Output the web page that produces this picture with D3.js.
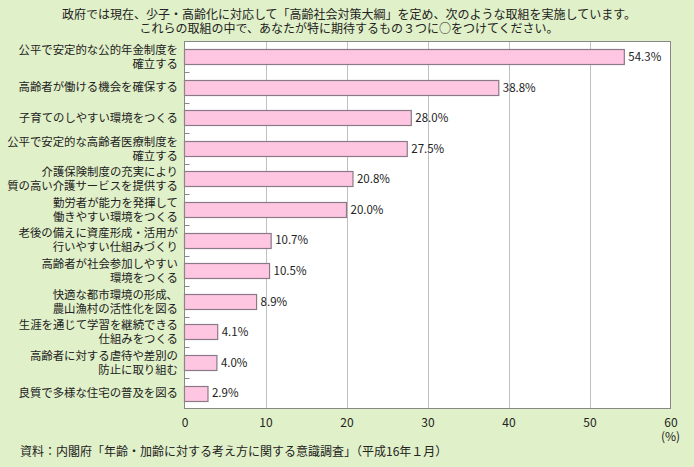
<!DOCTYPE html>
<html><head><meta charset="utf-8">
<script src="https://cdn.jsdelivr.net/npm/d3@7"></script>
<style>
html,body{margin:0;padding:0;background:#e0f0c8;}
svg{display:block;font-family:"Noto Sans CJK JP","Noto Sans",sans-serif;}
</style></head>
<body>
<svg id="c" width="694" height="467"></svg>
<script>
const titleLines = [
  "政府では現在、少子・高齢化に対応して「高齢社会対策大綱」を定め、次のような取組を実施しています。",
  "これらの取組の中で、あなたが特に期待するもの３つに○をつけてください。"
];
const categories = [
  "公平で安定的な公的年金制度を\n確立する",
  "高齢者が働ける機会を確保する",
  "子育てのしやすい環境をつくる",
  "公平で安定的な高齢者医療制度を\n確立する",
  "介護保険制度の充実により\n質の高い介護サービスを提供する",
  "勤労者が能力を発揮して\n働きやすい環境をつくる",
  "老後の備えに資産形成・活用が\n行いやすい仕組みづくり",
  "高齢者が社会参加しやすい\n環境をつくる",
  "快適な都市環境の形成、\n農山漁村の活性化を図る",
  "生涯を通じて学習を継続できる\n仕組みをつくる",
  "高齢者に対する虐待や差別の\n防止に取り組む",
  "良質で多様な住宅の普及を図る"
];
const values = [54.3, 38.8, 28.0, 27.5, 20.8, 20.0, 10.7, 10.5, 8.9, 4.1, 4.0, 2.9];
const xTicks = [0, 10, 20, 30, 40, 50, 60];
const unitLabel = "(%)";
const sourceText = "資料：内閣府「年齢・加齢に対する考え方に関する意識調査」（平成16年１月）";

const svg = d3.select("#c");
const pL = 184.5, pR = 670.5, pT = 41.5, pB = 408.5;
const x = d3.scaleLinear().domain([0, 60]).range([pL, pR]);
const y = d3.scaleBand().domain(categories).range([pT, pB]).paddingInner(0.5).paddingOuter(0.25);

svg.append("rect").attr("width", 694).attr("height", 467).attr("fill", "#e0f0c8");

// title
svg.append("g").selectAll("text").data(titleLines).join("text")
  .attr("x", 349).attr("y", (d, i) => 18.5 + i * 14)
  .attr("text-anchor", "middle").attr("font-size", 12).attr("fill", "#222")
  .text(d => d);

// plot area
svg.append("rect").attr("x", pL).attr("y", pT).attr("width", pR - pL).attr("height", pB - pT)
  .attr("fill", "#fff");

// grid
svg.append("g").selectAll("line").data(xTicks.filter(t => t > 0 && t < 60)).join("line")
  .attr("x1", d => Math.round(x(d)) + 0.5).attr("x2", d => Math.round(x(d)) + 0.5)
  .attr("y1", pT).attr("y2", pB).attr("stroke", "#c0c0c0").attr("stroke-width", 1);

// left small ticks at band boundaries
const step = y.step();
const boundaries = categories.slice(1).map(c => y(c) - y.paddingInner() * step / 2);
svg.append("g").selectAll("line").data(boundaries).join("line")
  .attr("x1", pL).attr("x2", pL + 5)
  .attr("y1", d => Math.round(d) + 0.5).attr("y2", d => Math.round(d) + 0.5)
  .attr("stroke", "#888").attr("stroke-width", 1);

// bars
svg.append("g").selectAll("rect").data(values).join("rect")
  .attr("x", x(0)).attr("y", (d, i) => Math.round(y(categories[i])) + 0.5)
  .attr("width", d => x(d) - x(0)).attr("height", Math.round(y.bandwidth()))
  .attr("fill", "#ffc6e2").attr("stroke", "#8a7a88").attr("stroke-width", 1.2);

// value labels
svg.append("g").selectAll("text").data(values).join("text")
  .attr("x", d => x(d) + 4).attr("y", (d, i) => y(categories[i]) + y.bandwidth() / 2)
  .attr("dy", "0.36em").attr("font-size", 11.5).attr("fill", "#222")
  .text(d => d.toFixed(1) + "%");

// category labels
const lab = svg.append("g").selectAll("text").data(categories).join("text")
  .attr("text-anchor", "end").attr("font-size", 11.4).attr("fill", "#222");
lab.each(function(d) {
  const lines = d.split("\n");
  const cy = y(d) + y.bandwidth() / 2;
  const t = d3.select(this);
  lines.forEach((ln, j) => {
    t.append("tspan").attr("x", 178)
      .attr("y", cy + (j - (lines.length - 1) / 2) * 14)
      .attr("dy", "0.36em").text(ln);
  });
});

// border
svg.append("rect").attr("x", pL).attr("y", pT).attr("width", pR - pL).attr("height", pB - pT)
  .attr("fill", "none").attr("stroke", "#888").attr("stroke-width", 1);

// x axis
const ax = svg.append("g").attr("transform", `translate(0,${pB + 7})`)
  .call(d3.axisBottom(x).tickValues(xTicks).tickSize(0).tickFormat(d3.format("d")));
ax.select(".domain").remove();
ax.selectAll("text").attr("font-size", 12).attr("fill", "#222")
  .attr("font-family", "\"Noto Sans CJK JP\",sans-serif");

svg.append("text").attr("x", x(60)).attr("y", 441).attr("text-anchor", "middle")
  .attr("font-size", 12).attr("fill", "#222").text(unitLabel);

svg.append("text").attr("x", 20).attr("y", 456).attr("font-size", 12).attr("fill", "#222")
  .text(sourceText);
</script>
</body></html>
